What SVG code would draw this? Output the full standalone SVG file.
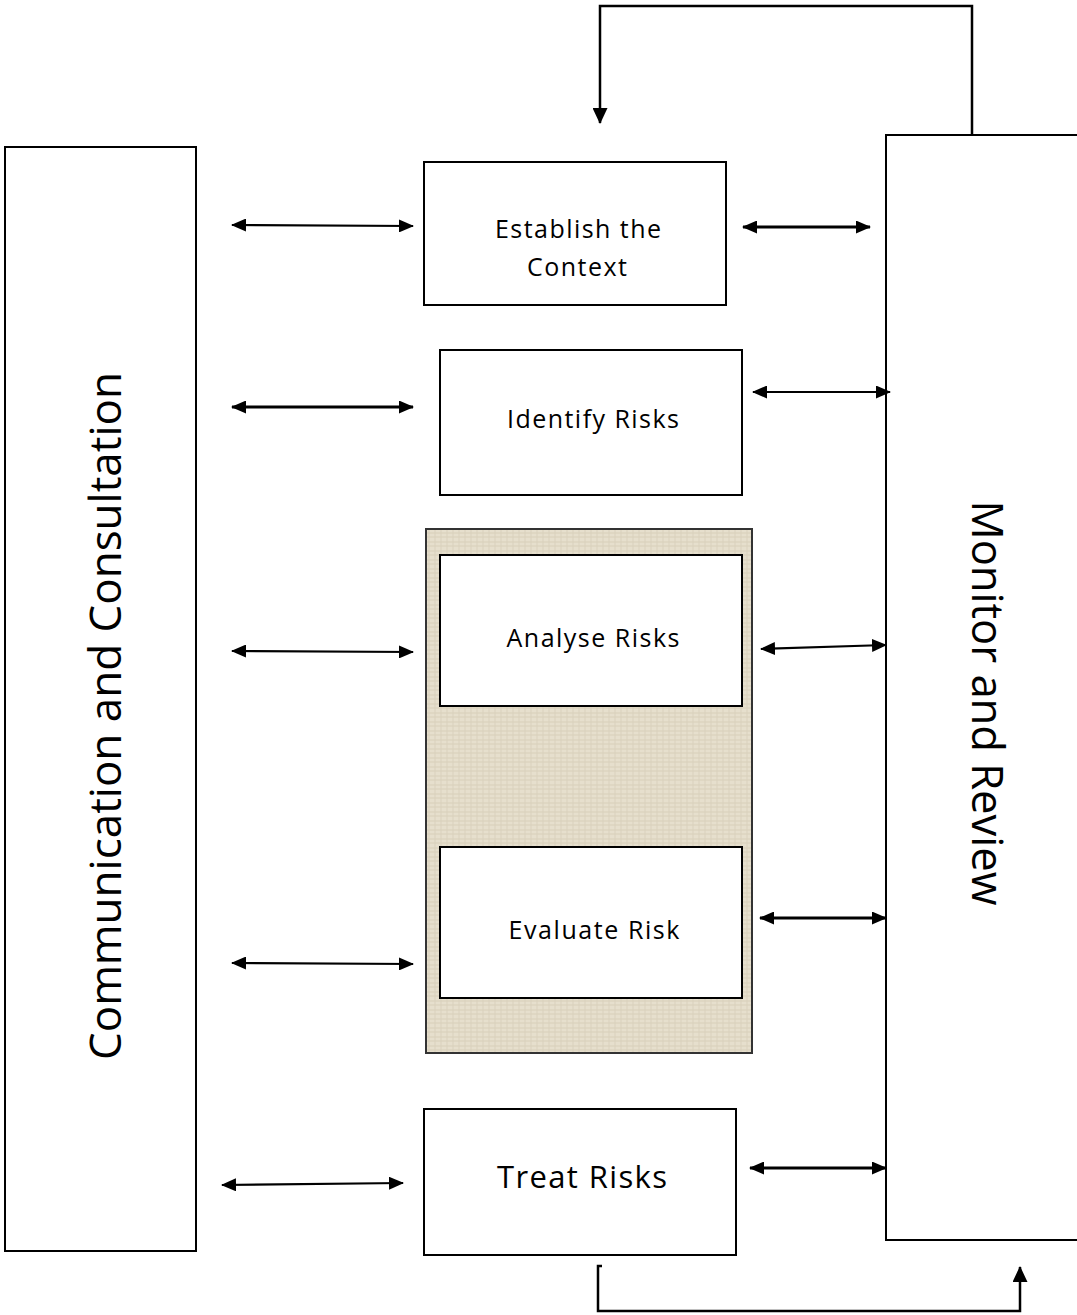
<svg xmlns="http://www.w3.org/2000/svg" width="1077" height="1315" viewBox="0 0 1077 1315">
<style>
.box{fill:#fff;stroke:#000;stroke-width:2}
.lbl{font-family:"Open Sans","Noto Sans",sans-serif;font-size:25px;fill:#000;text-anchor:middle}
.big{font-family:"Open Sans","Noto Sans",sans-serif;font-size:44px;fill:#000;text-anchor:middle}
.ln{stroke:#000;stroke-width:2.2;fill:none}
.dbl{stroke:#000;stroke-width:2.2;fill:none;marker-start:url(#ah);marker-end:url(#ah)}
</style>
<defs>
<marker id="ah" viewBox="0 0 15 13" refX="14" refY="6.5" markerWidth="15" markerHeight="13" markerUnits="userSpaceOnUse" orient="auto-start-reverse">
<path d="M0,0 L15,6.5 L0,13 Z" fill="#000"/>
</marker>
<marker id="ah1" viewBox="0 0 16 15" refX="15" refY="7.5" markerWidth="16" markerHeight="15" markerUnits="userSpaceOnUse" orient="auto">
<path d="M0,0 L16,7.5 L0,15 Z" fill="#000"/>
</marker>
<pattern id="linen" width="12" height="9" patternUnits="userSpaceOnUse">
<rect width="12" height="9" fill="#e6dfcd"/>
<path d="M0,2 H12 M0,6 H12" stroke="#d8cfba" stroke-width="1"/>
<path d="M3,0 V9 M9,0 V9" stroke="#dad1bd" stroke-width="1"/>
</pattern>
</defs>
<rect width="1077" height="1315" fill="#fff"/>

<g id="communication">
<rect class="box" x="5" y="147" width="191" height="1104"/>
<text class="big" transform="translate(121,716) rotate(-90)" textLength="688" lengthAdjust="spacingAndGlyphs">Communication and Consultation</text>
</g>

<g id="monitor">
<rect class="box" x="886" y="135" width="200" height="1105"/>
<text class="big" transform="translate(972,703) rotate(90)" textLength="405" lengthAdjust="spacingAndGlyphs">Monitor and Review</text>
</g>

<g id="establish">
<rect class="box" x="424" y="162" width="302" height="143"/>
<text class="lbl" x="578" y="238" textLength="166" lengthAdjust="spacing">Establish the</text>
<text class="lbl" x="577" y="276" textLength="100" lengthAdjust="spacing">Context</text>
</g>

<g id="identify">
<rect class="box" x="440" y="350" width="302" height="145"/>
<text class="lbl" x="593" y="428" textLength="172" lengthAdjust="spacing">Identify Risks</text>
</g>

<g id="analysis-group">
<rect x="426" y="529" width="326" height="524" fill="url(#linen)" stroke="#333" stroke-width="2"/>
</g>

<g id="analyse">
<rect class="box" x="440" y="555" width="302" height="151"/>
<text class="lbl" x="593" y="647" textLength="173" lengthAdjust="spacing">Analyse Risks</text>
</g>

<g id="evaluate">
<rect class="box" x="440" y="847" width="302" height="151"/>
<text class="lbl" x="594" y="939" textLength="171" lengthAdjust="spacing">Evaluate Risk</text>
</g>

<g id="treat">
<rect class="box" x="424" y="1109" width="312" height="146"/>
<text class="lbl" x="582" y="1188" style="font-size:31px" textLength="170" lengthAdjust="spacing">Treat Risks</text>
</g>

<g id="connectors">
<path class="ln" d="M972,135 V6 H600 V123" marker-end="url(#ah1)" style="stroke-width:2.5"/>
<path class="ln" d="M602,1266 H598 V1311 H1020 V1267" marker-end="url(#ah1)" style="stroke-width:2.5"/>

<line class="dbl" x1="232" y1="225" x2="413" y2="226"/>
<line class="dbl" x1="232" y1="407" x2="413" y2="407" style="stroke-width:3"/>
<line class="dbl" x1="232" y1="651" x2="413" y2="652"/>
<line class="dbl" x1="232" y1="963" x2="413" y2="964"/>
<line class="dbl" x1="222" y1="1185" x2="403" y2="1183"/>

<line class="dbl" x1="743" y1="227" x2="870" y2="227" style="stroke-width:3"/>
<line class="dbl" x1="753" y1="392" x2="890" y2="392"/>
<line class="dbl" x1="761" y1="649" x2="886" y2="645"/>
<line class="dbl" x1="760" y1="918" x2="886" y2="918" style="stroke-width:3"/>
<line class="dbl" x1="750" y1="1168" x2="886" y2="1168" style="stroke-width:3"/>
</g>
</svg>
